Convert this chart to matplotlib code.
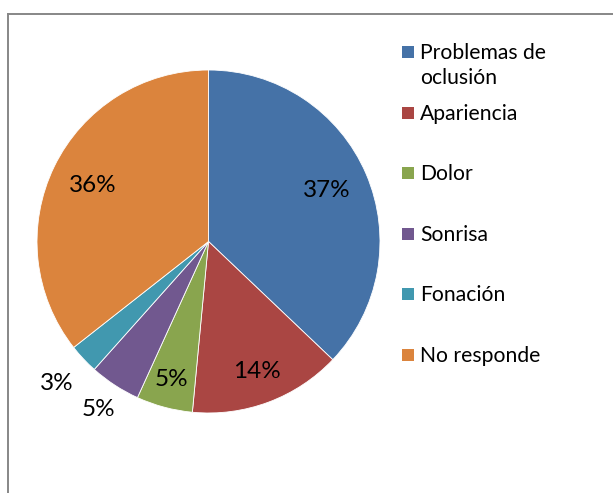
import numpy as np
import matplotlib
matplotlib.use("Agg")
from matplotlib import pyplot as plt
from matplotlib.lines import Line2D
from matplotlib.patches import Rectangle

plt.rcParams['font.family'] = ['Lato', 'DejaVu Sans']

# data (percent of answers)
categories = ["Problemas de\noclusión", "Apariencia", "Dolor", "Sonrisa", "Fonación", "No responde"]
values = [37.1, 14.4, 5.3, 4.8, 2.8, 35.6]
colors = ["#4572A7", "#AA4643", "#89A54E", "#71588F", "#4198AF", "#DB843D"]
# where each data label sits, as a fraction of the radius
label_dist = [0.75, 0.81, 0.83, 1.17, 1.21, 0.75]

W, H = 613, 493
fig = plt.figure(figsize=(W / 100, H / 100), dpi=100)

# chart frame (only left and top edges are inside the picture)
fig.add_artist(Line2D([8 / W, 8 / W], [0, 1 - 14 / H], color="#878787", lw=1.4))
fig.add_artist(Line2D([8 / W, 1], [1 - 14 / H, 1 - 14 / H], color="#878787", lw=1.4))

cx, cy, r = 208.5, 241.5, 171.5
ax = fig.add_axes([(cx - r) / W, (H - cy - r) / H, 2 * r / W, 2 * r / H])
wedges, _ = ax.pie(values, colors=colors, startangle=90, counterclock=False,
                   radius=1, wedgeprops=dict(edgecolor="white", linewidth=0.6))
ax.set_xlim(-1, 1)
ax.set_ylim(-1, 1)
ax.set_aspect("equal")
ax.axis("off")

total = sum(values)
start = 90.0
for v, d in zip(values, label_dist):
    mid = start - 360 * v / total / 2
    start -= 360 * v / total
    ang = np.deg2rad(mid)
    ax.text(d * np.cos(ang), d * np.sin(ang), "%d%%" % round(v),
            ha="center", va="center", fontsize=17.5, color="black", clip_on=False)

# legend
y0, step = 52, 60.6
for i, (lab, c) in enumerate(zip(categories, colors)):
    y = y0 + step * i
    fig.add_artist(Rectangle((402 / W, 1 - (y + 6) / H), 12 / W, 12 / H,
                             facecolor=c, edgecolor="none"))
    fig.text(420 / W, 1 - (y - 9) / H, lab, ha="left", va="top",
             fontsize=15.2, linespacing=1.3, color="black")

fig.savefig("out.png", dpi=100)
